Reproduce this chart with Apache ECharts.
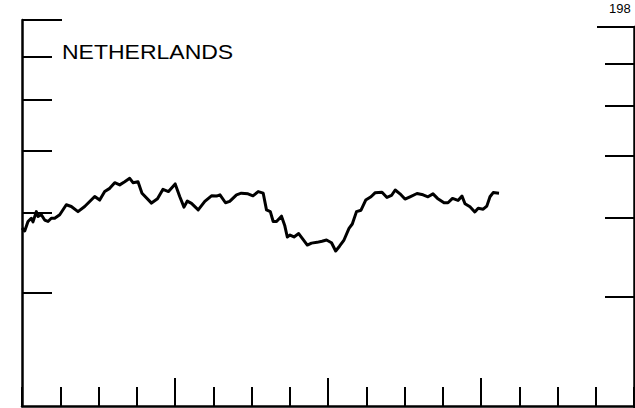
<!DOCTYPE html>
<html>
<head>
<meta charset="utf-8">
<script src="https://cdn.jsdelivr.net/npm/echarts@6/dist/echarts.min.js"></script>
<style>
html,body{margin:0;padding:0;background:#fff;}
#chart{width:635px;height:408px;}
</style>
</head>
<body>
<div id="chart"></div>
<script>
// Decimal years (horizontal position of each observation)
var dates = [
  1972.000,1972.071,1972.157,1972.243,1972.288,1972.374,1972.418,1972.505,1972.593,1972.680,
  1972.766,1972.855,1972.986,1973.158,1973.289,1973.464,1973.639,1973.901,1974.031,1974.162,
  1974.293,1974.424,1974.554,1974.685,1974.816,1974.902,1975.033,1975.137,1975.386,1975.542,
  1975.686,1975.830,1976.005,1976.123,1976.235,1976.322,1976.431,1976.607,1976.779,1976.954,
  1977.085,1977.176,1977.320,1977.430,1977.608,1977.733,1977.908,1978.039,1978.175,1978.306,
  1978.392,1978.492,1978.567,1978.654,1978.784,1978.871,1978.936,1979.007,1979.111,1979.234,
  1979.352,1979.459,1979.569,1979.712,1979.843,1979.961,1980.092,1980.201,1980.301,1980.418,
  1980.549,1980.635,1980.745,1980.863,1980.986,1981.124,1981.229,1981.412,1981.542,1981.660,
  1981.757,1981.882,1982.013,1982.144,1982.327,1982.484,1982.614,1982.745,1982.863,1983.033,
  1983.137,1983.255,1983.399,1983.503,1983.582,1983.712,1983.838,1983.927,1984.057,1984.152,
  1984.235,1984.319,1984.471
];
// Index values (log scale)
var values = [
  75.8,75.0,77.6,78.5,77.5,80.4,79.0,79.5,78.0,77.6,
  78.5,78.5,79.5,82.4,81.9,80.4,81.9,84.9,83.8,86.4,
  87.4,89.2,88.5,89.5,90.6,89.2,89.5,85.9,82.9,84.2,
  87.1,86.4,88.8,84.9,81.7,83.5,82.8,80.9,83.4,85.1,
  85.0,85.4,83.0,83.4,85.4,85.9,85.7,85.1,86.4,85.9,
  80.9,80.4,77.6,77.6,79.1,76.4,73.4,73.9,73.4,74.3,
  72.7,71.3,71.8,72.0,72.3,72.6,71.9,69.8,71.0,72.6,
  75.7,76.9,80.4,80.8,83.8,84.8,86.0,86.2,84.6,85.2,
  86.9,85.7,84.1,84.8,85.8,85.4,84.8,85.7,84.3,83.0,
  83.0,84.3,83.7,85.0,82.7,81.8,80.3,81.4,81.1,82.0,
  84.8,86.1,85.9
];
var yTicks = [60, 80, 100, 120, 140];
var yTopTick = [160];
var yMin = 40, yMax = 160;
var xMin = 1972, xMax = 1988;
var majorXTicks = [1976, 1980, 1984];
var titleText = 'NETHERLANDS';
var cornerText = '198';

var seriesData = dates.map(function (d, i) { return [d, values[i]]; });

var chart = echarts.init(document.getElementById('chart'), null, {renderer: 'svg'});
var black = '#000';
function yAx(grid, pos, showLine, ticks, len) {
  return {
    type: 'log', gridIndex: grid, position: pos, min: yMin, max: yMax, logBase: 10,
    axisLine: {show: showLine, lineStyle: {color: black, width: 2.5}},
    axisTick: {show: true, inside: true, length: len, customValues: ticks, lineStyle: {color: black, width: 2}},
    axisLabel: {show: false}, splitLine: {show: false}, minorTick: {show: false}
  };
}
var option = {
  animation: false,
  backgroundColor: '#fff',
  grid: [
    {left: 22, right: 1, top: 20, bottom: 2},
    {left: 22, right: 1, top: 27, bottom: -5}
  ],
  xAxis: [
    {type: 'value', gridIndex: 0, position: 'bottom', min: xMin, max: xMax, interval: 1,
     axisLine: {show: true, lineStyle: {color: black, width: 2.5}},
     axisTick: {show: true, inside: true, length: 19, lineStyle: {color: black, width: 2}},
     axisLabel: {show: false}, splitLine: {show: false}},
    {type: 'value', gridIndex: 0, position: 'bottom', offset: 0, min: xMin, max: xMax,
     axisLine: {show: false},
     axisTick: {show: true, inside: true, length: 28, customValues: majorXTicks, lineStyle: {color: black, width: 2}},
     axisLabel: {show: false}, splitLine: {show: false}},
    {type: 'value', gridIndex: 1, min: xMin, max: xMax, show: false}
  ],
  yAxis: [
    yAx(0, 'left', true, yTicks, 30),
    yAx(0, 'left', false, yTopTick, 40),
    yAx(1, 'right', true, yTicks, 29),
    yAx(1, 'right', false, yTopTick, 37)
  ],
  series: [{
    type: 'line', xAxisIndex: 0, yAxisIndex: 0, data: seriesData,
    showSymbol: false, symbol: 'none', z: 5,
    lineStyle: {color: black, width: 3, join: 'round'}
  }],
  graphic: [
    {type: 'text', x: 62, y: 53, scaleX: 1.18,
     style: {text: titleText, font: '19.5px "Liberation Sans", Arial, sans-serif', fill: black, align: 'left', verticalAlign: 'middle'}},
    {type: 'text', x: 609, y: 8,
     style: {text: cornerText, font: '13px "Liberation Sans", Arial, sans-serif', fill: black, align: 'left', verticalAlign: 'middle'}}
  ]
};
chart.setOption(option);
</script>
</body>
</html>
